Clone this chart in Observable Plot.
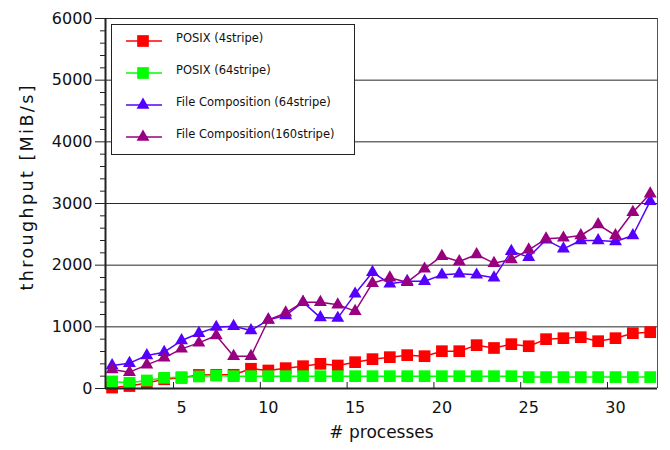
<!DOCTYPE html>
<html>
<head>
<meta charset="utf-8">
<script src="https://cdn.jsdelivr.net/npm/d3@7"></script>
<script src="https://cdn.jsdelivr.net/npm/@observablehq/plot@0.6"></script>
<style>
  body { margin: 0; background: #fff; }
  #wrap { position: relative; width: 670px; height: 450px; }
  #legend { position: absolute; left: 111px; top: 24px; }
</style>
</head>
<body>
<div id="wrap"></div>
<script>
// ---- data ----
const processes = [1,2,3,4,5,6,7,8,9,10,11,12,13,14,15,16,17,18,19,20,21,22,23,24,25,26,27,28,29,30,31,32];
const posix4 = [15,40,90,150,175,220,222,222,320,292,330,362,400,373,427,476,508,541,524,605,605,703,657,719,686,800,816,832,767,816,897,913];
const posix64 = [115,92,130,173,183,195,210,200,200,200,200,200,200,200,200,200,200,200,200,200,200,200,200,200,185,185,185,185,185,185,185,185];
const fc64 = [373,411,535,589,778,897,995,1011,940,1114,1184,1400,1150,1141,1535,1886,1697,1740,1740,1843,1860,1843,1795,2227,2130,2411,2265,2400,2400,2384,2481,3038];
const fc160 = [308,265,384,497,643,740,859,524,524,1110,1227,1400,1400,1357,1254,1708,1795,1724,1940,2146,2059,2173,2032,2092,2249,2427,2443,2481,2659,2481,2859,3157];
const seriesNames = ["POSIX (4stripe)", "POSIX (64stripe)", "File Composition (64stripe)", "File Composition(160stripe)"];
const seriesValues = [posix4, posix64, fc64, fc160];
const seriesColors = ["#ff0000", "#00ff00", "#5500ff", "#990080"];
const seriesSymbols = ["square", "square", "triangle", "triangle"];
const xTicks = [5, 10, 15, 20, 25, 30];
const yMajor = [0, 1000, 2000, 3000, 4000, 5000, 6000];
const yMinor = d3.range(200, 6000, 200).filter(v => v % 1000 !== 0);
const xLabel = "# processes";
const yLabel = "throughput [MiB/s]";

// ---- table ----
const rows = seriesNames.map((name, i) =>
  processes.map((p, j) => ({x: p, y: seriesValues[i][j], series: name})));

const xDomain = [0.62, 32.42];
const symR = {square: 6.6, triangle: 4.8};

const marks = [
  Plot.gridY({ticks: yMajor.slice(1), stroke: "#111", strokeOpacity: 0.9}),
  Plot.ruleX([xDomain[1]], {stroke: "#555"}),
  Plot.axisY({ticks: yMinor, tickSize: 5, tickFormat: () => "", label: null, stroke: "#222"}),
  Plot.axisY({ticks: yMajor, tickSize: 10, tickPadding: 3, tickFormat: d => String(d), label: null, fontSize: 16, stroke: "#222"}),
  Plot.axisX({ticks: xTicks, tickSize: 0, tickPadding: 13, tickFormat: d => String(d), label: null, fontSize: 16}),
  Plot.ruleX(xTicks, {x: d => d, dx: -8, insetTop: 364, stroke: "#222"}),
  Plot.text([xLabel], {frameAnchor: "bottom", dy: 49, fontSize: 17, fill: "#111"}),
  Plot.text([yLabel], {frameAnchor: "left", dx: -78, dy: 87, rotate: -90, textAnchor: "start", fontSize: 17.5, fill: "#111"})
];
rows.forEach((r, i) => {
  marks.push(Plot.line(r, {x: "x", y: "y", stroke: seriesColors[i], strokeWidth: 1.5}));
  marks.push(Plot.dot(r, {x: "x", y: "y", symbol: seriesSymbols[i], r: symR[seriesSymbols[i]], fill: seriesColors[i], stroke: "none"}));
});
marks.push(Plot.ruleX([xDomain[0]], {stroke: "#222", strokeWidth: 2}));
marks.push(Plot.ruleY([0], {stroke: "#222", strokeWidth: 2}));

const chart = Plot.plot({
  width: 670,
  height: 450,
  marginLeft: 105,
  marginRight: 13,
  marginTop: 18,
  marginBottom: 62,
  style: {fontFamily: "DejaVu Sans", fontSize: "16px", color: "#111", background: "#fff"},
  x: {domain: xDomain, axis: null},
  y: {domain: [0, 6000], axis: null},
  marks
});
document.getElementById("wrap").appendChild(chart);

// stretch the rotated axis title to the reference's length
d3.select(chart).selectAll("text").filter(function() { return this.textContent === yLabel; })
  .attr("textLength", 205).attr("lengthAdjust", "spacing");

// ---- legend overlay ----
const lw = 244, lh = 131;
const leg = d3.select("#wrap").append("svg").attr("id", "legend")
  .attr("width", lw).attr("height", lh)
  .style("font-family", "DejaVu Sans");
leg.append("rect").attr("x", 0.5).attr("y", 0.5).attr("width", lw - 1).attr("height", lh - 1)
  .attr("fill", "#fff").attr("stroke", "#222");
seriesNames.forEach((name, i) => {
  const cy = 17 + i * 32;
  const g = leg.append("g");
  g.append("line").attr("x1", 15).attr("x2", 51).attr("y1", cy).attr("y2", cy)
    .attr("stroke", seriesColors[i]).attr("stroke-width", 1.5);
  const rr = symR[seriesSymbols[i]];
  const sym = seriesSymbols[i] === "square" ? d3.symbolSquare : d3.symbolTriangle;
  g.append("path").attr("d", d3.symbol(sym, Math.PI * rr * rr)())
    .attr("transform", `translate(32,${cy})`).attr("fill", seriesColors[i]);
  g.append("text").attr("x", 65).attr("y", cy + 1).attr("font-size", 11.5)
    .attr("fill", "#111").text(name);
});
</script>
</body>
</html>
